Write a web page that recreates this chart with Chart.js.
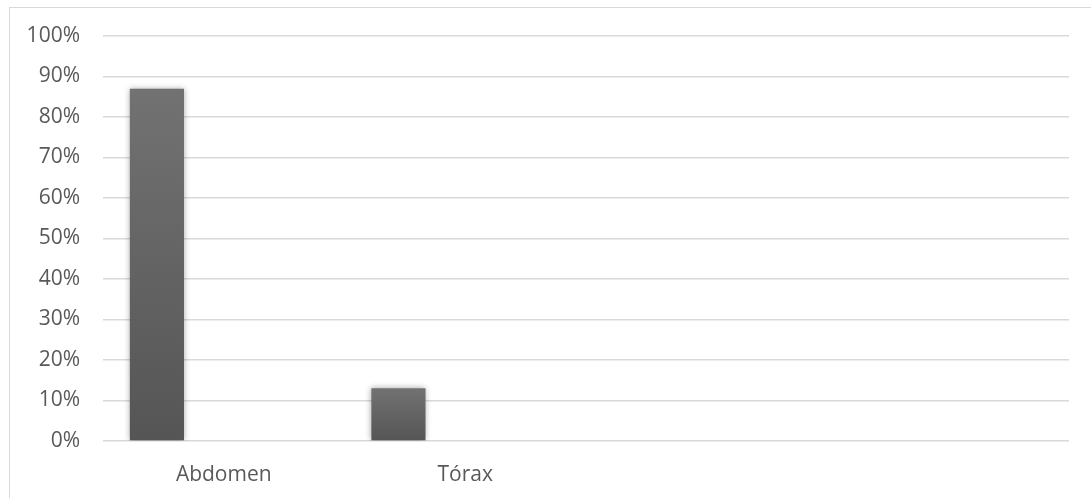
<!DOCTYPE html>
<html>
<head>
<meta charset="utf-8">
<script src="https://cdn.jsdelivr.net/npm/chart.js@4/dist/chart.umd.min.js"></script>
<style>
  html, body { margin: 0; padding: 0; background: #fff; }
  #wrap { position: relative; width: 1091px; height: 498px; overflow: hidden; }
  #frame { position: absolute; left: 9px; top: 7px; width: 1200px; height: 600px; border: 1px solid #d9d9d9; box-sizing: border-box; }
  canvas { position: absolute; left: 0; top: 0; }
</style>
</head>
<body>
<div id="wrap">
  <div id="frame"></div>
  <canvas id="myChart" width="1091" height="498"></canvas>
</div>
<script>
const categories = ['Abdomen', 'Tórax', '', ''];
const serie1 = [0.87, 0.13, null, null];
const serie2 = [null, null, null, null];
const serie3 = [null, null, null, null];
const yTicks = [0, 0.1, 0.2, 0.3, 0.4, 0.5, 0.6, 0.7, 0.8, 0.9, 1];

// gradient per bar, lighter at the top
function barFill(context) {
    const chart = context.chart;
    const y = chart.scales.y;
    if (!y || context.raw == null) return '#606060';
    const top = y.getPixelForValue(context.raw);
    const bottom = y.getPixelForValue(0);
    if (!isFinite(top) || !isFinite(bottom) || top === bottom) return '#606060';
    const g = chart.ctx.createLinearGradient(0, top, 0, bottom);
    g.addColorStop(0, '#727272');
    g.addColorStop(1, '#555555');
    return g;
}

const barShadow = {
    id: 'barShadow',
    beforeDatasetsDraw(chart) {
        const ctx = chart.ctx;
        ctx.save();
        ctx.shadowColor = 'rgba(0,0,0,0.35)';
        ctx.shadowBlur = 6;
        ctx.shadowOffsetX = 0;
        ctx.shadowOffsetY = 0;
    },
    afterDatasetsDraw(chart) {
        chart.ctx.restore();
    }
};

const font = { family: '"Open Sans", sans-serif', size: 21 };

new Chart(document.getElementById('myChart').getContext('2d'), {
    type: 'bar',
    data: {
        labels: categories,
        datasets: [
            { data: serie1, backgroundColor: barFill, borderWidth: 0 },
            { data: serie2, backgroundColor: '#a5a5a5', borderWidth: 0 },
            { data: serie3, backgroundColor: '#a5a5a5', borderWidth: 0 }
        ]
    },
    options: {
        responsive: false,
        animation: false,
        events: [],
        categoryPercentage: 0.83,
        barPercentage: 0.81,
        layout: { padding: { left: 0, right: 22, top: 36, bottom: 0 } },
        plugins: {
            legend: { display: false },
            tooltip: { enabled: false }
        },
        scales: {
            x: {
                grid: { display: false, drawTicks: false },
                border: { display: false },
                ticks: { color: '#595959', font: font, padding: 21, maxRotation: 0 },
                afterFit(scale) { scale.height = 57; }
            },
            y: {
                min: 0,
                max: 1,
                afterBuildTicks(scale) { scale.ticks = yTicks.map(v => ({ value: v })); },
                grid: { color: '#d9d9d9', lineWidth: 1.5, drawTicks: false },
                border: { display: false },
                ticks: {
                    color: '#595959',
                    font: font,
                    padding: 23,
                    callback: v => Math.round(v * 100) + '%'
                },
                afterFit(scale) { scale.width = 103; }
            }
        }
    },
    plugins: [barShadow]
});
</script>
</body>
</html>
